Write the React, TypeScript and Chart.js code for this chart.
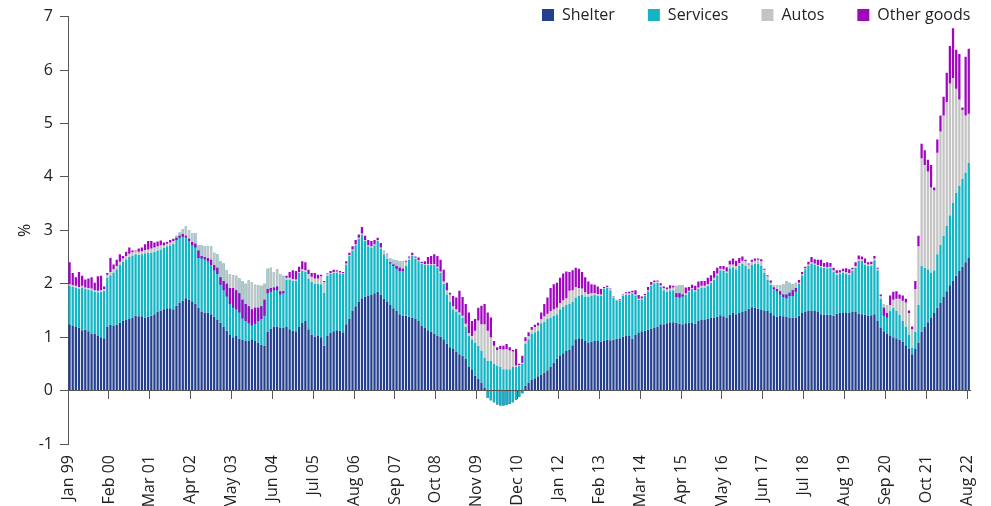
import { useEffect, useRef } from 'react';
import { Chart, registerables } from 'chart.js';

Chart.register(...registerables);

// Contributions (percentage points), monthly from Jan 99
const shelter: number[] = [
  1.24, 1.21, 1.19, 1.18, 1.13, 1.14, 1.11, 1.07, 1.06, 1.03,
  1.00, 0.98, 1.19, 1.23, 1.21, 1.23, 1.27, 1.31, 1.32, 1.34,
  1.37, 1.40, 1.39, 1.39, 1.37, 1.38, 1.40, 1.43, 1.48, 1.50,
  1.52, 1.54, 1.54, 1.52, 1.59, 1.65, 1.68, 1.73, 1.70, 1.67,
  1.63, 1.55, 1.48, 1.46, 1.46, 1.43, 1.38, 1.33, 1.27, 1.19,
  1.12, 1.04, 1.00, 1.02, 0.97, 0.95, 0.93, 0.93, 0.96, 0.93,
  0.90, 0.86, 0.84, 1.10, 1.16, 1.20, 1.20, 1.17, 1.18, 1.19,
  1.15, 1.12, 1.11, 1.19, 1.27, 1.30, 1.15, 1.05, 1.01, 1.02,
  1.00, 0.84, 1.03, 1.08, 1.11, 1.13, 1.12, 1.09, 1.24, 1.35,
  1.50, 1.58, 1.66, 1.73, 1.76, 1.78, 1.80, 1.82, 1.85, 1.80,
  1.72, 1.66, 1.60, 1.54, 1.49, 1.43, 1.40, 1.40, 1.38, 1.37,
  1.34, 1.30, 1.22, 1.17, 1.13, 1.10, 1.07, 1.03, 1.01, 0.96,
  0.88, 0.81, 0.78, 0.73, 0.68, 0.65, 0.59, 0.44, 0.40, 0.28,
  0.22, 0.15, 0.05, -0.14, -0.18, -0.22, -0.26, -0.28, -0.28, -0.27,
  -0.25, -0.22, -0.17, -0.12, -0.05, 0.09, 0.15, 0.20, 0.23, 0.27,
  0.30, 0.34, 0.38, 0.44, 0.52, 0.60, 0.66, 0.70, 0.74, 0.77,
  0.85, 0.96, 0.98, 0.97, 0.93, 0.90, 0.92, 0.93, 0.93, 0.92,
  0.93, 0.95, 0.94, 0.95, 0.97, 0.98, 1.01, 1.03, 1.02, 0.97,
  1.04, 1.08, 1.11, 1.12, 1.14, 1.16, 1.18, 1.20, 1.24, 1.24,
  1.26, 1.28, 1.28, 1.27, 1.25, 1.24, 1.26, 1.27, 1.27, 1.25,
  1.31, 1.32, 1.32, 1.35, 1.36, 1.36, 1.38, 1.41, 1.39, 1.37,
  1.42, 1.45, 1.43, 1.45, 1.47, 1.50, 1.53, 1.56, 1.55, 1.53,
  1.51, 1.49, 1.49, 1.45, 1.41, 1.38, 1.40, 1.39, 1.38, 1.37,
  1.37, 1.37, 1.40, 1.45, 1.48, 1.50, 1.50, 1.49, 1.47, 1.43,
  1.42, 1.42, 1.42, 1.40, 1.44, 1.46, 1.45, 1.45, 1.46, 1.48,
  1.47, 1.44, 1.43, 1.42, 1.40, 1.41, 1.43, 1.30, 1.17, 1.11,
  1.06, 1.02, 1.00, 0.98, 0.95, 0.92, 0.85, 0.78, 0.68, 0.78,
  0.90, 1.10, 1.19, 1.28, 1.36, 1.45, 1.55, 1.64, 1.75, 1.86,
  1.97, 2.06, 2.15, 2.24, 2.32, 2.40, 2.48,
];

const services: number[] = [
  0.72, 0.73, 0.74, 0.73, 0.80, 0.76, 0.78, 0.81, 0.79, 0.81,
  0.85, 0.89, 0.92, 0.93, 1.00, 1.04, 1.08, 1.10, 1.14, 1.16,
  1.16, 1.15, 1.15, 1.16, 1.20, 1.20, 1.18, 1.17, 1.14, 1.14,
  1.15, 1.16, 1.18, 1.23, 1.31, 1.31, 1.34, 1.34, 1.30, 1.28,
  1.32, 1.17, 1.24, 1.24, 1.24, 1.27, 1.20, 1.22, 1.15, 1.19,
  1.13, 1.14, 1.16, 1.13, 1.13, 1.10, 1.07, 1.13, 1.07, 1.05,
  1.07, 1.10, 1.16, 1.18, 1.14, 1.02, 1.07, 1.01, 0.97, 0.89,
  0.93, 0.94, 0.94, 1.01, 0.97, 0.92, 0.95, 0.98, 0.99, 0.98,
  0.99, 0.99, 1.12, 1.10, 1.09, 1.08, 1.07, 1.09, 1.12, 1.17,
  1.12, 1.14, 1.18, 1.19, 1.04, 0.92, 0.88, 0.90, 0.95, 0.86,
  0.83, 0.81, 0.87, 0.91, 0.95, 0.99, 1.02, 0.93, 1.07, 1.15,
  1.13, 1.12, 1.15, 1.18, 1.22, 1.25, 1.28, 1.27, 1.19, 1.04,
  0.92, 0.85, 0.74, 0.75, 0.75, 0.72, 0.61, 0.59, 0.56, 0.62,
  0.62, 0.60, 0.57, 0.70, 0.74, 0.72, 0.73, 0.72, 0.68, 0.67,
  0.65, 0.66, 0.61, 0.59, 0.55, 0.79, 0.81, 0.86, 0.86, 0.85,
  0.96, 0.95, 0.96, 0.93, 0.88, 0.83, 0.86, 0.87, 0.86, 0.85,
  0.81, 0.78, 0.80, 0.82, 0.83, 0.86, 0.86, 0.86, 0.85, 0.85,
  0.97, 0.97, 0.94, 0.79, 0.72, 0.70, 0.76, 0.77, 0.78, 0.85,
  0.74, 0.62, 0.60, 0.65, 0.72, 0.80, 0.83, 0.82, 0.71, 0.64,
  0.59, 0.60, 0.60, 0.69, 0.72, 0.73, 0.54, 0.58, 0.63, 0.61,
  0.59, 0.61, 0.61, 0.61, 0.66, 0.72, 0.78, 0.84, 0.85, 0.83,
  0.87, 0.86, 0.84, 0.88, 0.91, 0.84, 0.75, 0.79, 0.82, 0.85,
  0.83, 0.71, 0.59, 0.53, 0.56, 0.59, 0.57, 0.60, 0.67, 0.65,
  0.62, 0.65, 0.60, 0.71, 0.79, 0.84, 0.88, 0.87, 0.86, 0.88,
  0.88, 0.87, 0.88, 0.82, 0.73, 0.72, 0.76, 0.74, 0.71, 0.76,
  0.83, 0.99, 1.00, 0.94, 0.93, 0.93, 1.01, 0.95, 0.55, 0.51,
  0.54, 0.48, 0.55, 0.52, 0.47, 0.38, 0.35, 0.27, 0.12, 0.32,
  0.70, 1.23, 1.11, 0.99, 0.85, 0.80, 1.00, 1.09, 1.15, 1.22,
  1.31, 1.46, 1.55, 1.60, 1.64, 1.68, 1.78,
];

const autos: number[] = [
  0.03, 0.03, 0.03, 0.03, 0.03, 0.03, 0.03, 0.03, 0.03, 0.03,
  0.03, 0.03, 0.06, 0.06, 0.06, 0.06, 0.06, 0.06, 0.06, 0.06,
  0.06, 0.06, 0.06, 0.06, 0.06, 0.06, 0.08, 0.08, 0.08, 0.08,
  0.05, 0.05, 0.05, 0.05, -0.04, -0.06, -0.09, -0.17, -0.16, -0.17,
  -0.20, -0.10, -0.20, -0.20, -0.22, -0.25, -0.23, -0.25, -0.30, -0.33,
  -0.25, -0.26, -0.24, -0.27, -0.28, -0.35, -0.38, -0.48, -0.51, -0.43,
  -0.42, -0.38, -0.30, -0.38, -0.38, -0.29, -0.32, -0.32, -0.29, 0.03,
  0.03, 0.03, 0.03, 0.02, 0.03, 0.03, 0.08, 0.10, 0.10, 0.10,
  0.15, 0.20, 0.04, 0.02, 0.02, 0.02, 0.02, 0.02, 0.02, 0.02,
  0.02, 0.02, 0.02, 0.02, 0.02, 0.02, 0.02, 0.02, 0.02, 0.02,
  0.08, 0.08, -0.07, -0.09, -0.11, -0.12, -0.14, 0.08, 0.04, 0.02,
  0.02, 0.02, 0.02, 0.02, 0.02, 0.02, 0.02, 0.02, 0.03, 0.04,
  0.08, 0.14, 0.06, 0.04, 0.03, 0.03, 0.05, 0.05, 0.06, 0.22,
  0.47, 0.49, 0.62, 0.56, 0.44, 0.34, 0.29, 0.34, 0.37, 0.38,
  0.35, 0.29, 0.03, 0.01, 0.02, 0.05, 0.06, 0.08, 0.10, 0.10,
  0.08, 0.10, 0.10, 0.12, 0.12, 0.12, 0.12, 0.12, 0.13, 0.25,
  0.22, 0.20, 0.14, 0.12, 0.08, 0.05, 0.04, 0.03, 0.03, 0.03,
  0.02, 0.02, 0.02, 0.01, 0.01, 0.01, 0.02, 0.02, 0.02, 0.02,
  0.02, 0.02, 0.02, 0.02, 0.02, 0.02, 0.02, 0.02, 0.02, 0.04,
  0.05, 0.03, 0.05, -0.14, -0.15, -0.17, 0.02, 0.02, 0.02, 0.02,
  0.03, 0.03, 0.03, 0.03, 0.03, 0.03, 0.03, 0.03, 0.03, 0.03,
  0.07, 0.05, 0.06, 0.06, 0.05, 0.08, 0.08, 0.06, 0.06, 0.07,
  0.08, 0.06, 0.06, 0.04, -0.04, -0.07, -0.11, -0.19, -0.25, -0.19,
  -0.11, -0.10, 0.02, 0.02, 0.02, 0.02, 0.02, 0.02, 0.02, 0.02,
  0.02, 0.02, 0.02, 0.03, 0.03, 0.03, 0.03, 0.03, 0.03, 0.03,
  0.03, 0.03, 0.03, 0.03, 0.03, 0.03, 0.03, 0.03, 0.05, -0.07,
  -0.15, 0.10, 0.15, 0.22, 0.30, 0.38, 0.45, 0.40, 0.35, 0.80,
  1.10, 2.02, 1.92, 1.83, 1.59, 1.50, 1.90, 2.12, 2.25, 2.32,
  2.47, 2.33, 1.95, 1.61, 1.29, 1.07, 0.92,
];

const otherGoods: number[] = [
  0.41, 0.23, 0.16, 0.28, 0.19, 0.15, 0.18, 0.21, 0.14, 0.27,
  0.27, 0.05, 0.03, 0.26, 0.09, 0.12, 0.14, 0.05, 0.08, 0.12,
  0.03, 0.01, 0.06, 0.07, 0.11, 0.16, 0.14, 0.09, 0.09, 0.09,
  0.05, 0.03, 0.05, 0.04, -0.04, -0.04, -0.05, -0.03, -0.04, -0.06,
  -0.07, -0.14, -0.05, -0.04, -0.06, -0.10, -0.10, -0.12, -0.14, -0.17,
  -0.24, -0.30, -0.37, -0.36, -0.36, -0.35, -0.32, -0.32, -0.30, -0.30,
  -0.25, -0.24, -0.30, -0.08, -0.07, -0.05, -0.07, -0.06, -0.04, 0.04,
  0.11, 0.16, 0.16, 0.10, 0.15, 0.15, 0.08, 0.07, 0.10, 0.07,
  0.03, 0.02, 0.01, 0.04, 0.04, 0.02, 0.03, 0.02, 0.04, 0.04,
  0.06, 0.08, 0.06, 0.12, 0.08, 0.10, 0.10, 0.08, 0.04, 0.08,
  0.00, 0.01, -0.02, -0.03, -0.05, -0.06, -0.04, 0.02, 0.02, 0.04,
  0.02, 0.05, 0.02, 0.05, 0.13, 0.15, 0.18, 0.20, 0.22, 0.22,
  0.14, 0.03, 0.19, 0.22, 0.41, 0.35, 0.37, 0.38, 0.28, 0.22,
  0.24, 0.35, 0.38, 0.34, 0.37, 0.09, 0.05, 0.06, 0.07, 0.09,
  0.06, 0.03, 0.31, 0.02, 0.13, 0.07, 0.07, 0.05, 0.04, 0.05,
  0.12, 0.23, 0.30, 0.43, 0.47, 0.47, 0.47, 0.50, 0.50, 0.35,
  0.37, 0.36, 0.36, 0.31, 0.28, 0.23, 0.17, 0.16, 0.14, 0.10,
  0.02, 0.02, 0.01, 0.01, 0.00, 0.02, 0.01, 0.02, 0.03, 0.03,
  0.08, 0.07, 0.03, 0.02, 0.06, 0.05, 0.03, 0.02, 0.04, 0.03,
  0.03, 0.06, 0.03, -0.07, -0.08, -0.04, 0.11, 0.07, 0.06, 0.08,
  0.11, 0.09, 0.09, 0.12, 0.11, 0.13, 0.11, 0.05, 0.06, 0.08,
  0.07, 0.11, 0.10, 0.09, 0.08, 0.03, 0.02, 0.04, 0.04, 0.02,
  0.04, 0.02, 0.02, 0.04, -0.03, -0.04, -0.06, -0.05, -0.07, -0.06,
  -0.11, -0.07, 0.05, 0.04, 0.03, 0.05, 0.10, 0.08, 0.10, 0.12,
  0.07, 0.09, 0.07, 0.05, 0.05, 0.04, 0.04, 0.07, 0.07, 0.03,
  0.07, 0.07, 0.05, 0.08, 0.04, 0.04, 0.05, 0.02, 0.03, -0.15,
  -0.08, 0.18, 0.15, 0.14, 0.08, 0.10, 0.07, 0.05, 0.05, 0.15,
  0.20, 0.27, 0.28, 0.22, 0.42, 0.05, 0.25, 0.30, 0.35, 0.55,
  0.70, 0.93, 0.73, 0.85, 0.05, 1.10, 1.22,
];

const tickLabels: string[] = [
  'Jan 99', 'Feb 00', 'Mar 01', 'Apr 02', 'May 03', 'Jun 04', 'Jul 05', 'Aug 06',
  'Sep 07', 'Oct 08', 'Nov 09', 'Dec 10', 'Jan 12', 'Feb 13', 'Mar 14', 'Apr 15',
  'May 16', 'Jun 17', 'Jul 18', 'Aug 19', 'Sep 20', 'Oct 21', 'Aug 22',
];
const TICK_STEP = 13;

const seriesNames: string[] = ['Shelter', 'Services', 'Autos', 'Other goods'];
const monthNames: string[] = ['Jan', 'Feb', 'Mar', 'Apr', 'May', 'Jun', 'Jul', 'Aug', 'Sep', 'Oct', 'Nov', 'Dec'];
const START_YEAR = 1999;

const categories: string[] = shelter.map((_, i) => {
  const yr = (START_YEAR + Math.floor(i / 12)) % 100;
  return `${monthNames[i % 12]} ${String(yr).padStart(2, '0')}`;
});

const COLORS = ['#243f8e', '#12b5c4', '#c4c4c4', '#a106bf'];
const AXIS = '#555555';
const TEXT = '#222222';
const FONT = "'Open Sans', 'Noto Sans', sans-serif";
const LEGEND_ITEM_TOP = 7;

const legendPlacement = {
  id: 'legendPlacement',
  beforeInit(chart: any) {
    const legend = chart.legend;
    if (!legend) return;
    const fit = legend.fit.bind(legend);
    legend.fit = function () {
      fit();
      this.height = 0;
    };
  },
  afterLayout(chart: any) {
    const legend = chart.legend;
    if (!legend) return;
    const pad = legend.options.labels.padding;
    legend.left = 0;
    legend.right = chart.chartArea.right + pad;
    legend.top = LEGEND_ITEM_TOP - pad;
    legend.bottom = legend.top + 70;
    legend.width = legend.right - legend.left;
    legend.height = legend.bottom - legend.top;
  },
};

const r3 = (v: number) => Math.round(v * 1000) / 1000;

export default function App() {
  const ref = useRef<HTMLCanvasElement>(null);

  useEffect(() => {
    if (!ref.current) return;
    const lvl1 = shelter.map((s) => r3(s));
    const lvl2 = shelter.map((s, i) => r3(s + services[i]));
    const lvl3 = lvl2.map((v, i) => r3(v + autos[i]));
    const lvl4 = lvl3.map((v, i) => r3(v + otherGoods[i]));

    const bars = [
      lvl1.map((v) => [0, v]),
      lvl1.map((v, i) => [v, lvl2[i]]),
      lvl2.map((v, i) => [v, lvl3[i]]),
      lvl3.map((v, i) => [v, lvl4[i]]),
    ];

    const datasets = seriesNames.map((name, k) => ({
      label: name,
      data: bars[k] as any,
      backgroundColor: COLORS[k],
      borderWidth: 0,
      grouped: false,
      order: 3 - k,
      barPercentage: 0.72,
      categoryPercentage: 1.0,
      xAxisID: 'x',
      yAxisID: 'y',
    }));

    const font = { family: FONT, size: 16 };

    const chart = new Chart(ref.current, {
      type: 'bar',
      data: { labels: categories, datasets },
      options: {
        animation: false,
        responsive: false,
        devicePixelRatio: 1,
        layout: { padding: { left: 12, right: 20, top: 16, bottom: 0 } },
        plugins: {
          legend: {
            position: 'top',
            align: 'end',
            reverse: true,
            labels: { boxWidth: 12, boxHeight: 12, padding: 33, color: TEXT, font },
          },
          tooltip: { enabled: false },
        },
        scales: {
          x: {
            type: 'category',
            position: 'bottom',
            offset: true,
            grid: {
              offset: true,
              display: true,
              drawOnChartArea: false,
              drawTicks: true,
              tickLength: 8,
              color: 'rgba(0,0,0,0)',
            },
            border: { display: false },
            ticks: {
              autoSkip: false,
              maxRotation: 90,
              minRotation: 90,
              padding: 3,
              labelOffset: -1.5,
              color: TEXT,
              font,
              callback: (_v: any, index: number) =>
                index % TICK_STEP === 0 ? tickLabels[index / TICK_STEP] ?? '' : '',
            },
            afterFit: (s: any) => {
              s.height = 62;
            },
          },
          xZero: {
            type: 'category',
            axis: 'x',
            position: { y: 0 },
            offset: true,
            grid: {
              offset: true,
              display: true,
              drawOnChartArea: false,
              drawTicks: true,
              tickLength: 8,
              lineWidth: 1,
              z: 1,
              color: (ctx: any) => (ctx.index % TICK_STEP === 0 ? AXIS : 'rgba(0,0,0,0)'),
            },
            border: { display: true, color: AXIS, width: 1, z: 1 },
            ticks: { display: false, autoSkip: false },
          },
          y: {
            type: 'linear',
            position: 'left',
            min: -1,
            max: 7,
            ticks: { stepSize: 1, padding: 7, color: TEXT, font },
            grid: { drawOnChartArea: false, drawTicks: true, tickLength: 8, color: AXIS },
            border: { display: true, color: AXIS, width: 1 },
            title: { display: true, text: '%', color: TEXT, font, padding: { top: 4, bottom: 4 } },
            afterFit: (s: any) => {
              s.width = 56;
            },
          },
        },
      } as any,
      plugins: [legendPlacement],
    });

    return () => chart.destroy();
  }, []);

  return (
    <div style={{ position: 'fixed', left: 0, top: 0, width: 991, height: 506, background: '#fff' }}>
      <canvas ref={ref} width={991} height={506} style={{ display: 'block' }} />
    </div>
  );
}
